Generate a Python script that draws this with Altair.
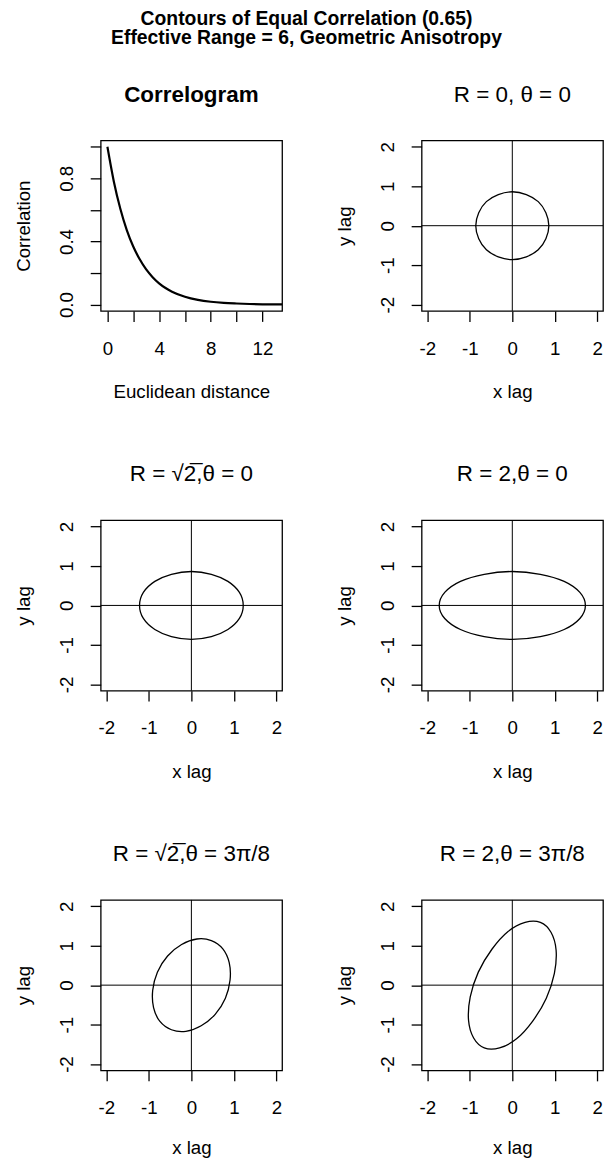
import altair as alt
import pandas as pd

# ---------------- data ----------------
dist = [0, 0.5, 1, 1.5, 2, 2.5, 3, 3.5, 4, 4.5, 5, 6, 7, 8, 9, 10, 11, 12, 13, 13.52]
corr = [1.000, 0.779, 0.607, 0.472, 0.368, 0.287, 0.223, 0.174, 0.135, 0.105,
        0.082, 0.050, 0.030, 0.018, 0.011, 0.007, 0.004, 0.002, 0.0015, 0.0012]

circ_x = [0.86, 0.79, 0.61, 0.33, 0.00, -0.33, -0.61, -0.79, -0.86, -0.79, -0.61, -0.33, 0.00, 0.33, 0.61, 0.79]
circ_y = [0.00, 0.33, 0.61, 0.79, 0.86, 0.79, 0.61, 0.33, 0.00, -0.33, -0.61, -0.79, -0.86, -0.79, -0.61, -0.33]

r2_x = [1.22, 1.13, 0.86, 0.47, 0.00, -0.47, -0.86, -1.13, -1.22, -1.13, -0.86, -0.47, 0.00, 0.47, 0.86, 1.13]
r2_y = [0.00, 0.33, 0.61, 0.79, 0.86, 0.79, 0.61, 0.33, 0.00, -0.33, -0.61, -0.79, -0.86, -0.79, -0.61, -0.33]

r4_x = [1.72, 1.59, 1.22, 0.66, 0.00, -0.66, -1.22, -1.59, -1.72, -1.59, -1.22, -0.66, 0.00, 0.66, 1.22, 1.59]
r4_y = [0.00, 0.33, 0.61, 0.79, 0.86, 0.79, 0.61, 0.33, 0.00, -0.33, -0.61, -0.79, -0.86, -0.79, -0.61, -0.33]

rot2_x = [0.47, 0.13, -0.23, -0.56, -0.80, -0.91, -0.89, -0.74, -0.47, -0.13, 0.23, 0.56, 0.80, 0.91, 0.89, 0.74]
rot2_y = [1.13, 1.17, 1.03, 0.74, 0.33, -0.13, -0.57, -0.92, -1.13, -1.17, -1.03, -0.74, -0.33, 0.13, 0.57, 0.92]

rot4_x = [0.66, 0.30, -0.10, -0.48, -0.80, -0.99, -1.03, -0.91, -0.66, -0.30, 0.10, 0.48, 0.80, 0.99, 1.03, 0.91]
rot4_y = [1.59, 1.59, 1.36, 0.91, 0.33, -0.30, -0.89, -1.34, -1.59, -1.59, -1.36, -0.91, -0.33, 0.30, 0.89, 1.34]

main_title = ["Contours of Equal Correlation (0.65)", "Effective Range = 6, Geometric Anisotropy"]
panel_titles = ["Correlogram", "R = 0, \u03b8 = 0", "R = \u221a2\u0305,\u03b8 = 0", "R = 2,\u03b8 = 0",
                "R = \u221a2\u0305,\u03b8 = 3\u03c0/8", "R = 2,\u03b8 = 3\u03c0/8"]
lag_ticks = [-2, -1, 0, 1, 2]
dist_ticks = [0, 2, 4, 6, 8, 10, 12]
corr_ticks = [0, 0.2, 0.4, 0.6, 0.8, 1.0]

# ---------------- layout constants ----------------
W, H = 182, 171
COL_GAP, ROW_GAP = 140, 210
FONT = "Liberation Sans"
FS = 18.75
LAG_EXPR = "datum.value < 0 ? '-' + abs(datum.value) : '' + datum.value"


def xaxis(title, values, expr, title_y=86.8):
    return alt.Axis(title=title, values=values, titleX=W / 2, titleY=title_y, titleAlign="center",
                    titleBaseline="alphabetic", labelPadding=32.9, labelBaseline="alphabetic",
                    labelAlign="center", labelAngle=0, labelExpr=expr)


def yaxis(title, values, expr):
    return alt.Axis(title=title, values=values, titleX=-71.5, titleY=H / 2, titleAngle=270,
                    titleAlign="center", titleBaseline="alphabetic", labelPadding=17.8,
                    labelAngle=270, labelAlign="center", labelBaseline="alphabetic", labelExpr=expr)


def title_layer(text, bold=False):
    return alt.Chart(pd.DataFrame({"t": [text]})).mark_text(
        font=FONT, fontSize=22.5, fontWeight="bold" if bold else "normal",
        baseline="alphabetic", align="center", color="black"
    ).encode(x=alt.value(W / 2), y=alt.value(-39), text="t:N")


def ellipse_panel(title, xs, ys, title_y=86.8):
    df = pd.DataFrame({"x": xs, "y": ys, "k": list(range(len(xs)))})
    one = pd.DataFrame({"z": [0]})
    xsc = alt.Scale(domain=[-2.134, 2.134], nice=False, zero=False)
    ysc = alt.Scale(domain=[-2.16, 2.16], nice=False, zero=False)
    line = alt.Chart(df).mark_line(interpolate="cardinal-closed", color="black", strokeWidth=1.3).encode(
        x=alt.X("x:Q", scale=xsc, axis=xaxis("x lag", lag_ticks, LAG_EXPR, title_y)),
        y=alt.Y("y:Q", scale=ysc, axis=yaxis("y lag", lag_ticks, LAG_EXPR)),
        order="k:Q",
    )
    vr = alt.Chart(one).mark_rule(color="black", strokeWidth=1).encode(x=alt.datum(0))
    hr = alt.Chart(one).mark_rule(color="black", strokeWidth=1).encode(y=alt.datum(0))
    return alt.layer(hr, vr, line, title_layer(title)).properties(width=W, height=H)


# ---------------- correlogram panel ----------------
cdf = pd.DataFrame({"d": dist, "c": corr})
one = pd.DataFrame({"z": [0]})
curve = alt.Chart(cdf).mark_line(interpolate="monotone", color="black", strokeWidth=2.2, clip=True).encode(
    x=alt.X("d:Q", scale=alt.Scale(domain=[-0.52, 13.52], nice=False, zero=False),
            axis=xaxis("Euclidean distance", dist_ticks,
                       "datum.value % 4 === 0 ? format(datum.value, 'd') : ''")),
    y=alt.Y("c:Q", scale=alt.Scale(domain=[-0.04, 1.04], nice=False, zero=False),
            axis=yaxis("Correlation", corr_ticks,
                       "round(datum.value * 10) % 4 === 0 ? format(datum.value, '.1f') : ''")),
)
# invisible anchors fixing the top-left corner of the drawing
anchor_l = alt.Chart(one).mark_rule(opacity=0).encode(x=alt.value(-92))
anchor_t = alt.Chart(one).mark_rule(opacity=0).encode(y=alt.value(-130))
mt1 = alt.Chart(pd.DataFrame({"t": [main_title[0]]})).mark_text(
    font=FONT, fontSize=19.4, fontWeight="bold", baseline="alphabetic", align="center", color="black"
).encode(x=alt.value(206.5), y=alt.value(-116), text="t:N")
mt2 = alt.Chart(pd.DataFrame({"t": [main_title[1]]})).mark_text(
    font=FONT, fontSize=19.4, fontWeight="bold", baseline="alphabetic", align="center", color="black"
).encode(x=alt.value(206.5), y=alt.value(-97), text="t:N")
p1 = alt.layer(anchor_l, anchor_t, curve, title_layer(panel_titles[0], bold=True), mt1, mt2).properties(width=W, height=H)

p2 = ellipse_panel(panel_titles[1], circ_x, circ_y)
p3 = ellipse_panel(panel_titles[2], r2_x, r2_y)
p4 = ellipse_panel(panel_titles[3], r4_x, r4_y)
p5 = ellipse_panel(panel_titles[4], rot2_x, rot2_y, title_y=83)
p6 = ellipse_panel(panel_titles[5], rot4_x, rot4_y, title_y=83)

chart = alt.concat(p1, p2, p3, p4, p5, p6, columns=2, bounds="flush",
                   spacing={"row": ROW_GAP, "column": COL_GAP}).properties(
    padding={"top": -2, "left": 0, "right": 0, "bottom": 0}, background="white"
).configure_view(
    stroke="black", strokeWidth=1.3
).configure_axis(
    domain=False, grid=False, tickColor="black", tickWidth=1.3, tickSize=10.5,
    labelFont=FONT, labelFontSize=FS, labelColor="black", labelOverlap=False, labelFlush=False,
    titleFont=FONT, titleFontSize=FS, titleFontWeight="normal", titleColor="black",
)

chart.save("out.html", embed_options={"renderer": "svg", "actions": False})
